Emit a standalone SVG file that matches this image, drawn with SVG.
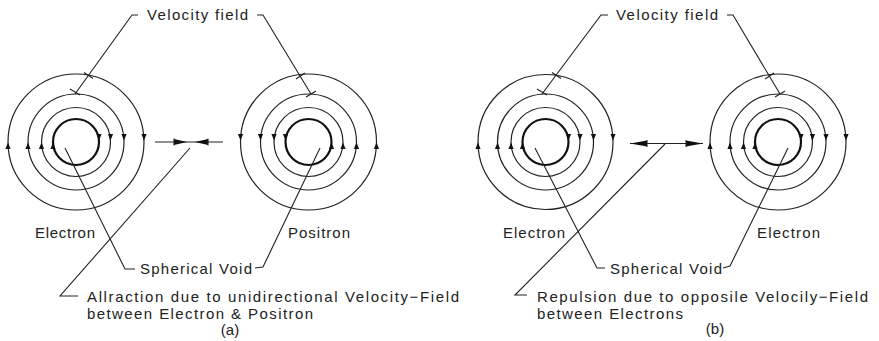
<svg xmlns="http://www.w3.org/2000/svg" xmlns:xlink="http://www.w3.org/1999/xlink" width="879" height="341" viewBox="0 0 879 341">
<style>
  .ring{fill:none;stroke:#222;stroke-width:1.2}
  .void{fill:none;stroke:#111;stroke-width:2.2}
  .ln{fill:none;stroke:#222;stroke-width:1.1}
  .ah{fill:#111;stroke:none}
  text{font-family:"Liberation Sans","DejaVu Sans",sans-serif;font-size:15px;fill:#222}
</style>
<defs>
  <path id="up" d="M0,-3.6 L2.6,3 L-2.6,3 Z" class="ah"/>
  <path id="dn" d="M0,3.6 L2.6,-3 L-2.6,-3 Z" class="ah"/>
</defs>
<rect width="879" height="341" fill="#fff"/>

<!-- Panel (a) -->
<g id="electron-a">
  <circle class="ring" cx="76" cy="142" r="68"/>
  <circle class="ring" cx="76" cy="142" r="48"/>
  <circle class="ring" cx="76" cy="142" r="34.5"/>
  <circle class="void" cx="76" cy="142" r="23"/>
  <use xlink:href="#up" x="8" y="146"/><use xlink:href="#up" x="28" y="146"/><use xlink:href="#up" x="41.5" y="146"/><use xlink:href="#up" x="53" y="146"/>
  <use xlink:href="#dn" x="144" y="137"/><use xlink:href="#dn" x="124" y="137"/><use xlink:href="#dn" x="110.5" y="137"/><use xlink:href="#dn" x="99" y="137"/>
</g>
<g id="positron-a">
  <circle class="ring" cx="308.5" cy="142" r="68"/>
  <circle class="ring" cx="308.5" cy="142" r="48"/>
  <circle class="ring" cx="308.5" cy="142" r="34.5"/>
  <circle class="void" cx="308.5" cy="142" r="23"/>
  <use xlink:href="#dn" x="240.5" y="137"/><use xlink:href="#dn" x="260.5" y="137"/><use xlink:href="#dn" x="274" y="137"/><use xlink:href="#dn" x="285.5" y="137"/>
  <use xlink:href="#up" x="376.5" y="146"/><use xlink:href="#up" x="356.5" y="146"/><use xlink:href="#up" x="343" y="146"/><use xlink:href="#up" x="331.5" y="146"/>
</g>

<!-- Panel (b) -->
<g id="electron-b1">
  <circle class="ring" cx="545.5" cy="142" r="67.5"/>
  <circle class="ring" cx="545.5" cy="142" r="48"/>
  <circle class="ring" cx="545.5" cy="142" r="34.5"/>
  <circle class="void" cx="545.5" cy="142" r="23"/>
  <use xlink:href="#up" x="478" y="146"/><use xlink:href="#up" x="497.5" y="146"/><use xlink:href="#up" x="511" y="146"/><use xlink:href="#up" x="522.5" y="146"/>
  <use xlink:href="#dn" x="613" y="137"/><use xlink:href="#dn" x="593.5" y="137"/><use xlink:href="#dn" x="580" y="137"/><use xlink:href="#dn" x="568.5" y="137"/>
</g>
<g id="electron-b2">
  <circle class="ring" cx="778" cy="142" r="68"/>
  <circle class="ring" cx="778" cy="142" r="48"/>
  <circle class="ring" cx="778" cy="142" r="34.5"/>
  <circle class="void" cx="778" cy="142" r="23"/>
  <use xlink:href="#up" x="710" y="146"/><use xlink:href="#up" x="730" y="146"/><use xlink:href="#up" x="743.5" y="146"/><use xlink:href="#up" x="755" y="146"/>
  <use xlink:href="#dn" x="846" y="137"/><use xlink:href="#dn" x="826" y="137"/><use xlink:href="#dn" x="812.5" y="137"/><use xlink:href="#dn" x="801" y="137"/>
</g>

<g id="connectors">
  <!-- (a) middle attraction arrows -->
  <line class="ln" x1="155" y1="142" x2="223" y2="142"/>
  <path class="ah" d="M187,142 L174,139 L174,145 Z"/>
  <line class="ln" x1="174" y1="138.5" x2="174" y2="145.5" stroke-width="1.8"/>
  <path class="ah" d="M195,142 L208,139 L208,145 Z"/>
  <line class="ln" x1="208" y1="138.5" x2="208" y2="145.5" stroke-width="1.8"/>
  <!-- (b) middle repulsion arrows -->
  <line class="ln" x1="630" y1="143.5" x2="703" y2="143.5"/>
  <path class="ah" d="M630,143.5 L647,140.5 L647,146.5 Z"/>
  <line class="ln" x1="647" y1="140" x2="647" y2="147" stroke-width="1.8"/>
  <path class="ah" d="M703,143.5 L686,140.5 L686,146.5 Z"/>
  <line class="ln" x1="686" y1="140" x2="686" y2="147" stroke-width="1.8"/>

  <!-- Velocity field leaders (a) -->
  <polyline class="ln" points="138,15 132,15 75,94"/>
  <line class="ln" x1="84" y1="72.5" x2="93" y2="78.5"/>
  <line class="ln" x1="70" y1="89" x2="80" y2="95"/>
  <polyline class="ln" points="257,15 263,15 311,94"/>
  <line class="ln" x1="296" y1="79" x2="305" y2="73"/>
  <line class="ln" x1="306" y1="97" x2="316" y2="91"/>
  <!-- Velocity field leaders (b) -->
  <polyline class="ln" points="608,15 601,15 542,94"/>
  <line class="ln" x1="552" y1="72.5" x2="561" y2="78.5"/>
  <line class="ln" x1="537" y1="89" x2="547" y2="95"/>
  <polyline class="ln" points="727,15 733,15 780,94"/>
  <line class="ln" x1="765" y1="79" x2="774" y2="73"/>
  <line class="ln" x1="775" y1="97" x2="785" y2="91"/>

  <!-- Spherical void leaders -->
  <polyline class="ln" points="65,148 125,269 135,269"/>
  <polyline class="ln" points="320,148 263,267 255,268"/>
  <polyline class="ln" points="535,148 597,268 605,268"/>
  <polyline class="ln" points="788,148 730,266 723,268"/>

  <!-- Attraction / repulsion leaders -->
  <polyline class="ln" points="190,148 60,296 78,296"/>
  <polyline class="ln" points="665,144 515,295 527,295"/>
</g>

<g id="labels">
  <text x="147" y="20" textLength="101" lengthAdjust="spacing">Velocity  field</text>
  <text x="616" y="20" textLength="102" lengthAdjust="spacing">Velocity  field</text>
  <text x="35" y="238" textLength="60" lengthAdjust="spacing">Electron</text>
  <text x="288" y="238" textLength="62" lengthAdjust="spacing">Positron</text>
  <text x="503" y="238" textLength="62" lengthAdjust="spacing">Electron</text>
  <text x="757" y="238" textLength="63" lengthAdjust="spacing">Electron</text>
  <text x="140" y="274" textLength="112" lengthAdjust="spacing">Spherical Void</text>
  <text x="610" y="274" textLength="112" lengthAdjust="spacing">Spherical Void</text>
  <text x="87" y="302" textLength="372" lengthAdjust="spacing">Allraction due to unidirectional Velocity−Field</text>
  <text x="87" y="319" textLength="226" lengthAdjust="spacing">between Electron &amp; Positron</text>
  <text x="230" y="335" text-anchor="middle">(a)</text>
  <text x="537" y="302" textLength="331" lengthAdjust="spacing">Repulsion due to opposile Velocily−Field</text>
  <text x="537" y="319" textLength="146" lengthAdjust="spacing">between Electrons</text>
  <text x="715" y="334" text-anchor="middle">(b)</text>
</g>
</svg>
